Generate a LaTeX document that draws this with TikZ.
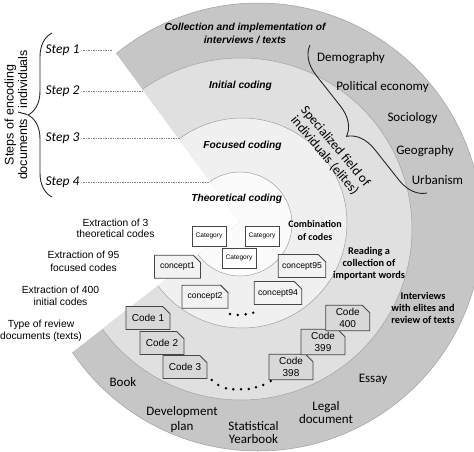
\documentclass[tikz,border=0pt]{standalone}
\usepackage{fontspec}
\setmainfont{Liberation Sans}
\newfontfamily\calibri{Carlito}
\usetikzlibrary{shapes.misc,decorations.pathreplacing}
\definecolor{ringA}{RGB}{198,198,198}
\definecolor{ringB}{RGB}{224,224,224}
\definecolor{ringC}{RGB}{240,240,240}
\definecolor{ringD}{RGB}{251,251,251}
\definecolor{codefill}{RGB}{216,216,216}
\definecolor{conceptfill}{RGB}{243,243,243}
\definecolor{boxedge}{RGB}{70,70,70}
\definecolor{ringedge}{RGB}{160,160,160}
\begin{document}
\begin{tikzpicture}[x=1pt,y=1pt,
  lbl/.style={inner sep=0pt, align=center},
  ariallbl/.style={lbl, font=\fontsize{10.3}{12.3}\selectfont},
  phase/.style={lbl, font=\bfseries\itshape\fontsize{10.2}{13}\selectfont},
  fieldlbl/.style={lbl, font=\calibri\fontsize{13}{14}\selectfont},
  boldlbl/.style={lbl, font=\calibri\bfseries\fontsize{10.3}{11.9}\selectfont},
  steplbl/.style={lbl, font=\calibri\itshape\fontsize{13.5}{14}\selectfont},
  stepline/.style={densely dotted, gray, line width=0.7pt},
  ringline/.style={draw=ringedge, line width=0.5pt},
  catbox/.style={rectangle, draw=boxedge, fill=white, line width=0.8pt, minimum width=34pt, minimum height=20pt, inner sep=0pt, font=\fontsize{6.6}{7}\selectfont},
  docbox/.style={chamfered rectangle, chamfered rectangle corners=north east, chamfered rectangle xsep=4pt, draw=boxedge, line width=0.9pt, inner sep=0pt, align=center},
  conceptbox/.style={docbox, fill=conceptfill, minimum width=46pt, minimum height=23pt, font=\fontsize{8.6}{10}\selectfont},
  codebox/.style={docbox, fill=codefill, minimum width=44pt, minimum height=23pt, font=\fontsize{10}{11.2}\selectfont},
  bracestyle/.style={decorate, line width=0.9pt, draw=black!85}
]
\useasboundingbox (0,0) rectangle (474,-451);

% rings
\begin{scope}
\clip (0,0) rectangle (474,-451);
\clip (240,-222) -- (-51,174) -- (600,174) -- (600,-700) -- (-210,-700) -- (-210,-572) -- cycle;
\filldraw[ringline, fill=ringA] (258,-227) circle[radius=224pt];
\filldraw[ringline, fill=ringB] (241,-229) circle[radius=171pt];
\filldraw[ringline, fill=ringC] (242,-223) circle[radius=105pt];
\filldraw[ringline, fill=ringD] (240,-224) circle[radius=52pt];
\end{scope}

% phase titles
\node[phase] (collect) at (245,-33.5) {Collection and implementation of\\interviews / texts};
\node[phase] (initial) at (240.5,-86) {Initial coding};
\node[phase] (focused) at (242.5,-146) {Focused coding};
\node[phase] (theor) at (236.7,-199) {Theoretical coding};

% steps
\node[lbl, rotate=90, font=\fontsize{12.5}{13.5}\selectfont] (stepsttl) at (16,-115) {Steps of encoding\\documents / individuals};
\node[steplbl] (step1) at (62.5,-50) {Step 1};
\node[steplbl] (step2) at (62.5,-91) {Step 2};
\node[steplbl] (step3) at (62.5,-138) {Step 3};
\node[steplbl] (step4) at (62.5,-182) {Step 4};
\coordinate (s1end) at (113,-50);
\coordinate (s2end) at (143,-91);
\coordinate (s3end) at (180,-138);
\coordinate (s4end) at (210,-182);
\draw[stepline] ([xshift=3pt]step1.east) -- (s1end);
\draw[stepline] ([xshift=3pt]step2.east) -- (s2end);
\draw[stepline] ([xshift=3pt]step3.east) -- (s3end);
\draw[stepline] ([xshift=3pt]step4.east) -- (s4end);
\coordinate (lbrA) at (52,-197);
\coordinate (lbrB) at (52,-33);
\draw[bracestyle, decoration={brace, amplitude=24pt}] (lbrA) -- (lbrB);

% fields
\node[fieldlbl] (demo) at (351,-58) {Demography};
\node[fieldlbl] (polec) at (382.5,-87) {Political economy};
\node[fieldlbl] (socio) at (412.5,-118) {Sociology};
\node[fieldlbl] (geo) at (425,-151) {Geography};
\node[fieldlbl] (urban) at (437.5,-180) {Urbanism};
\coordinate (rbrA) at (427,-193);
\coordinate (rbrB) at (310,-45);
\draw[bracestyle, decoration={brace, amplitude=28pt}] (rbrA) -- (rbrB);
\node[lbl, rotate=-50, font=\calibri\fontsize{13.3}{14.2}\selectfont] (special) at (330,-151) {Specialized field of\\individuals (elites)};

% bold process labels
\node[boldlbl, font=\calibri\bfseries\fontsize{10}{13}\selectfont] (combin) at (315,-230.5) {Combination\\of codes};
\node[boldlbl] (reading) at (369,-264) {Reading a\\collection of\\important words};
\node[boldlbl, font=\calibri\bfseries\fontsize{10.3}{11.7}\selectfont] (interv) at (423,-308) {Interviews\\with elites and\\review of texts};

% left descriptions
\node[ariallbl, font=\fontsize{10.3}{11.3}\selectfont] (ext3) at (115.5,-228.5) {Extraction of 3\\theoretical codes};
\node[ariallbl, font=\fontsize{10.3}{13.3}\selectfont] (ext95) at (83.5,-261) {Extraction of 95\\focused codes};
\node[ariallbl] (ext400) at (60.5,-295.5) {Extraction of 400\\initial codes};
\node[ariallbl] (typerev) at (41,-331) {Type of review\\documents (texts)};

% document types
\node[fieldlbl] (book) at (123,-382) {Book};
\node[fieldlbl, font=\calibri\fontsize{13}{15}\selectfont] (devplan) at (182,-419.5) {Development\\plan};
\node[fieldlbl, font=\calibri\fontsize{13}{13.3}\selectfont] (statyb) at (253.5,-432.5) {Statistical\\Yearbook};
\node[fieldlbl, font=\calibri\fontsize{13}{13.3}\selectfont] (legal) at (326,-412.5) {Legal\\document};
\node[fieldlbl] (essay) at (373,-379) {Essay};

% categories
\node[catbox] (cat1) at (209,-236) {Category};
\node[catbox] (cat2) at (262,-236) {Category};
\node[catbox] (cat3) at (239,-258) {Category};

% concepts
\node[conceptbox] (con1) at (177.5,-266.7) {concept1};
\node[conceptbox] (con2) at (205,-296.7) {concept2};
\node[conceptbox] (con94) at (278,-293) {concept94};
\node[conceptbox] (con95) at (302,-266) {concept95};
\foreach \px/\py in {230/314, 237.7/315, 245.7/314.3, 253.3/312.7}
  \fill[black] (\px,-\py) circle[radius=1.4pt];

% codes
\node[codebox] (code1) at (148,-318) {Code 1};
\node[codebox] (code2) at (162,-343) {Code 2};
\node[codebox] (code3) at (185,-367) {Code 3};
\node[codebox] (code398) at (291,-367) {Code\\398};
\node[codebox] (code399) at (323,-342) {Code\\399};
\node[codebox] (code400) at (347.7,-318) {Code\\400};
\foreach \px/\py in {211.7/380, 218.3/385, 226/388.3, 233.3/389.3, 241/389.3, 248.7/389, 256/387.3, 263.3/385, 270.7/381}
  \fill[black] (\px,-\py) circle[radius=1.4pt];
\end{tikzpicture}
\end{document}
